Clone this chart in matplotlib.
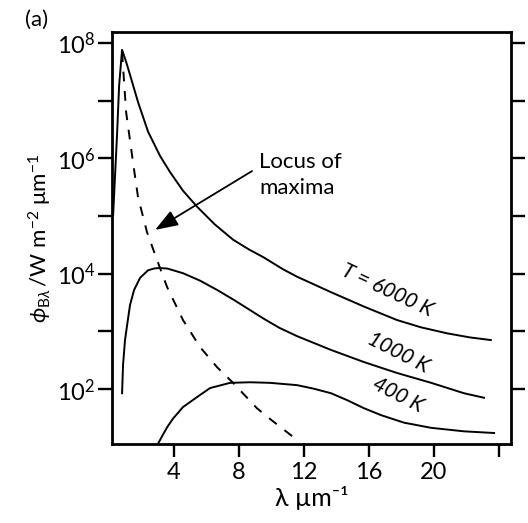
import matplotlib
matplotlib.use("Agg")
import matplotlib.pyplot as plt

plt.rcParams['font.family'] = ['Lato', 'DejaVu Sans']
plt.rcParams['mathtext.fontset'] = 'custom'
plt.rcParams['mathtext.rm'] = 'Lato'
plt.rcParams['mathtext.it'] = 'Lato:italic'
plt.rcParams['mathtext.bf'] = 'Lato:bold'
plt.rcParams['mathtext.fallback'] = 'stixsans'

# ---- data (wavelength in um, phi in W m^-2 um^-1) ----
lam_6000 = [0.25, 0.49, 0.62, 0.80, 1.05, 1.29, 1.78, 2.40, 3.14, 3.75, 4.55,
            5.42, 6.5, 7.63, 8.6, 9.48, 10.7, 11.57, 13.66, 15.69, 17.72, 19.2,
            20.8, 22.2, 23.5]
phi_6000 = [1.05e5, 2.57e6, 1.86e7, 7.6e7, 4.7e7, 2.8e7, 9.5e6, 2.9e6, 1.1e6,
            5.8e5, 2.75e5, 1.45e5, 7.2e4, 3.9e4, 2.65e4, 1.95e4, 1.2e4, 8.9e3,
            4.8e3, 2.7e3, 1.58e3, 1.18e3, 930, 790, 710]

lam_1000 = [0.80, 0.86, 0.98, 1.11, 1.29, 1.54, 1.91, 2.40, 2.8, 3.14, 3.6,
            4.55, 5.6, 6.65, 7.7, 8.68, 9.54, 10.5, 11.57, 13.66, 15.69, 17.72,
            19.82, 21.85, 23.08]
phi_1000 = [85, 263, 708, 1288, 2884, 5248, 8511, 11500, 12400, 12590, 12300,
            10230, 7600, 5248, 3500, 2344, 1650, 1150, 830, 479, 295, 191, 129,
            85, 71]

lam_400 = [2.95, 3.3, 3.6, 3.94, 4.55, 5.6, 6.22, 7.45, 8.68, 9.9, 11.57, 12.6,
           13.66, 14.65, 15.69, 16.74, 18.15, 19.82, 21.85, 23.7]
phi_400 = [10.5, 16, 22.5, 31, 49, 79.4, 104.7, 128.8, 131.8, 128.8, 117.5, 102,
           85.1, 64.6, 46.8, 35.5, 26.3, 21.4, 18.6, 17.4]

lam_locus = [0.80, 1.05, 1.48, 1.78, 2.34, 2.95, 3.57, 4.55, 5.6, 6.65, 7.63,
             9.1, 9.97, 11.57]
phi_locus = [6.9e7, 6.3e6, 8.3e5, 2.14e5, 5.2e4, 1.74e4, 5.9e3, 1.58e3, 537,
             240, 129, 46.8, 29.5, 13.2]

x_ticks = [4, 8, 12, 16, 20, 24]
x_tick_labels = ['4', '8', '12', '16', '20', '']
y_ticks = [1e2, 1e3, 1e4, 1e5, 1e6, 1e7, 1e8]
y_tick_labels = [r'$\mathregular{10^{2}}$', '', r'$\mathregular{10^{4}}$', '',
                 r'$\mathregular{10^{6}}$', '', r'$\mathregular{10^{8}}$']

curve_labels = ['T = 6000 K', '1000 K', '400 K']
curve_label_pos = [(17.1, 10**3.72), (17.8, 10**2.63), (17.8, 10**1.90)]
curve_label_rot = [-25, -27, -27]

arrow_tip = (2.83, 10**4.76)
arrow_tail = (8.8, 10**5.78)
locus_text = 'Locus of\nmaxima'
locus_text_pos = (9.23, 10**5.71)

# ---- figure ----
fig = plt.figure(figsize=(5.28, 5.23), dpi=100)
ax = fig.add_axes([112/528, 1-444/523, (511-112)/528, (444-32)/523])

lw = 1.4
ax.plot(lam_6000, phi_6000, color='black', lw=lw)
ax.plot(lam_1000, phi_1000, color='black', lw=lw)
ax.plot(lam_400, phi_400, color='black', lw=lw)
ax.plot(lam_locus, phi_locus, color='black', lw=lw, dashes=(5, 5))

ax.set_yscale('log')
ax.set_xlim(0.18, 24.74)
ax.set_ylim(10**1.05, 10**8.19)

ax.set_xticks(x_ticks)
ax.set_xticklabels(x_tick_labels)
ax.set_yticks(y_ticks)
ax.set_yticklabels(y_tick_labels)
ax.minorticks_off()

for s in ax.spines.values():
    s.set_linewidth(2.0)

ax.tick_params(axis='x', direction='out', length=9, width=1.7, labelsize=17, pad=4)
ax.tick_params(axis='y', direction='out', length=10, width=1.7, labelsize=17,
               right=True, labelright=False, pad=2)

ax.set_xlabel('λ µm⁻¹', fontsize=18, labelpad=2)
ax.set_ylabel(r'$\phi_{\mathrm{B}\lambda}\,\mathrm{/W\ m^{-2}\ \mu m^{-1}}$',
              fontsize=16, labelpad=2)

for txt, pos, rot in zip(curve_labels, curve_label_pos, curve_label_rot):
    ax.text(pos[0], pos[1], txt, rotation=rot, rotation_mode='anchor',
            ha='center', va='center', fontsize=15, style='italic')

ax.annotate('', xy=arrow_tip, xytext=arrow_tail,
            arrowprops=dict(arrowstyle='-|>,head_length=0.5,head_width=0.18',
                            mutation_scale=28, lw=1.3, color='black',
                            shrinkA=0, shrinkB=0))
ax.text(locus_text_pos[0], locus_text_pos[1], locus_text, ha='left',
        va='center', fontsize=16, linespacing=1.35)

fig.text(37/528, 1-20/523, '(a)', ha='center', va='center', fontsize=16)

fig.savefig('out.png', dpi=100)
